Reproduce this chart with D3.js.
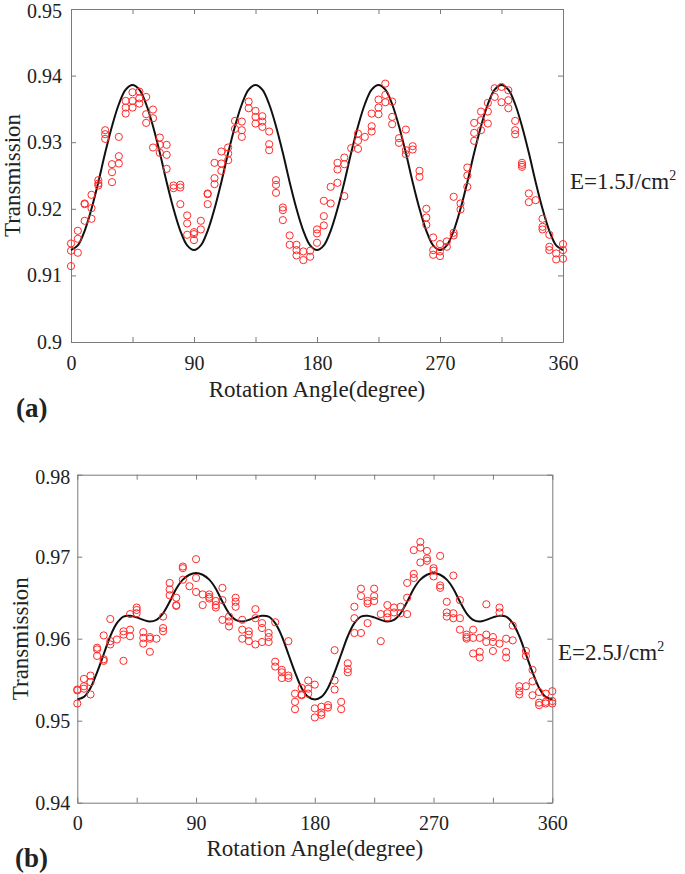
<!DOCTYPE html>
<html><head><meta charset="utf-8">
<script src="https://cdn.jsdelivr.net/npm/d3@7/dist/d3.min.js"></script>
<style>
html,body{margin:0;padding:0;background:#fff;}
svg{display:block;}
text{font-family:"Liberation Serif","Times New Roman",serif;fill:#222;}
</style></head>
<body>
<svg id="chart" width="685" height="874"></svg>
<script>
// ---------- data ----------
const angles = [0,5,10,15,20,25,30,35,40,45,50,55,60,65,70,75,80,85,90,95,100,105,110,115,120,125,130,135,140,145,150,155,160,165,170,175,180,185,190,195,200,205,210,215,220,225,230,235,240,245,250,255,260,265,270,275,280,285,290,295,300,305,310,315,320,325,330,335,340,345,350,355,360];
const xTicks = [0,45,90,135,180,225,270,315,360];
const xTickLabels = ["0","","90","","180","","270","","360"];
const yTicksA = [0.90,0.91,0.92,0.93,0.94,0.95];
const yTicksB = [0.94,0.95,0.96,0.97,0.98];

// measured transmission (several readings per angle), E = 1.5 J/cm2
const measA = [
 [0.9148,0.9137,0.9114],[0.9167,0.9155,0.9134],[0.9208,0.9207,0.9182],[0.9221,0.9201,0.9185],
 [0.9243,0.9238,0.9235],[0.9318,0.9312,0.9305],[0.9267,0.9255,0.9240],[0.9308,0.9279,0.9268],
 [0.9362,0.9352,0.9343],[0.9375,0.9362,0.9352],[0.9376,0.9366,0.9358],[0.9368,0.9342,0.9329],
 [0.9349,0.9336,0.9292],[0.9307,0.9296,0.9284],[0.9296,0.9281,0.9260],[0.9235,0.9231],
 [0.9236,0.9232,0.9207],[0.9190,0.9178,0.9161],[0.9165,0.9162,0.9153],[0.9182,0.9169],
 [0.9223,0.9222,0.9207],[0.9269,0.9246,0.9237],[0.9286,0.9268,0.9257],[0.9292,0.9283,0.9273],
 [0.9332,0.9320],[0.9331,0.9318,0.9308],[0.9361,0.9351],[0.9347,0.9338,0.9328],
 [0.9339,0.9331,0.9323],[0.9316,0.9297,0.9288],[0.9243,0.9236,0.9224],[0.9202,0.9198,0.9183],
 [0.9160,0.9146],[0.9146,0.9138,0.9130],[0.9136,0.9123],[0.9137,0.9128],
 [0.9169,0.9163,0.9149],[0.9212,0.9189,0.9175],[0.9233,0.9208],[0.9269,0.9259,0.9239],
 [0.9277,0.9267,0.9219],[0.9291],[0.9313,0.9302,0.9290],[0.9308],
 [0.9343,0.9324,0.9316],[0.9364,0.9352,0.9342],[0.9388,0.9371,0.9360],[0.9361,0.9338,0.9327],
 [0.9306,0.9299],[0.9319,0.9288,0.9282],[0.9294,0.9289],[0.9257,0.9248],
 [0.9200,0.9187,0.9176],[0.9157,0.9138,0.9131],[0.9147,0.9136,0.9129],[0.9151,0.9143],
 [0.9218,0.9164,0.9160],[0.9208,0.9199],[0.9262,0.9250,0.9233],[0.9329,0.9314,0.9302],
 [0.9346,0.9333,0.9318],[0.9359,0.9346,0.9328],[0.9381,0.9368],[0.9383,0.9360],
 [0.9378,0.9363,0.9351],[0.9332,0.9318,0.9312],[0.9269,0.9266,0.9263],[0.9223,0.9210],
 [0.9213],[0.9185,0.9173,0.9169],[0.9161,0.9143,0.9138],[0.9133,0.9124],[0.9147,0.9138,0.9125]
];
// fitted curve, E = 1.5 J/cm2
const fitA = [
 0.9138,0.9145,0.9167,0.9200,0.9240,0.9284,0.9324,0.9357,0.9379,0.9386,0.9379,0.9357,0.9324,0.9284,0.9240,0.9200,0.9167,0.9145,
 0.9138,0.9145,0.9167,0.9200,0.9240,0.9284,0.9324,0.9357,0.9379,0.9386,0.9379,0.9357,0.9324,0.9284,0.9240,0.9200,0.9167,0.9145,
 0.9138,0.9145,0.9167,0.9200,0.9240,0.9284,0.9324,0.9357,0.9379,0.9386,0.9379,0.9357,0.9324,0.9284,0.9240,0.9200,0.9167,0.9145,
 0.9138,0.9145,0.9167,0.9200,0.9240,0.9284,0.9324,0.9357,0.9379,0.9386,0.9379,0.9357,0.9324,0.9284,0.9240,0.9200,0.9167,0.9145,
 0.9138
];

// measured transmission, E = 2.5 J/cm2
const measB = [
 [0.9538,0.9537,0.9521],[0.9551,0.9542,0.9539],[0.9555,0.9547,0.9532],[0.9589,0.9587,0.9579],
 [0.9604,0.9575,0.9573],[0.9624,0.9597,0.9593],[0.9599],[0.9609,0.9605,0.9573],
 [0.9630,0.9611,0.9603],[0.9638,0.9635,0.9631],[0.9608,0.9601,0.9594],[0.9602,0.9600,0.9584],
 [0.9600],[0.9627,0.9613,0.9609],[0.9668,0.9660,0.9653],[0.9650,0.9641,0.9640],
 [0.9688,0.9686,0.9672],[0.9664],[0.9697,0.9674,0.9657],[0.9654,0.9641],
 [0.9654,0.9651,0.9649],[0.9646,0.9641,0.9638],[0.9662,0.9647,0.9623],[0.9627,0.9621,0.9615],
 [0.9650,0.9645,0.9639],[0.9623,0.9611,0.9600],[0.9609,0.9605,0.9597],[0.9636,0.9625,0.9593],
 [0.9619,0.9613,0.9596],[0.9607,0.9602,0.9596],[0.9620,0.9572,0.9566],[0.9562,0.9559,0.9552],
 [0.9597,0.9555,0.9552],[0.9533,0.9523,0.9514],[0.9540,0.9532,0.9531],[0.9549,0.9539,0.9533],
 [0.9544,0.9515,0.9504],[0.9517,0.9510,0.9507],[0.9519,0.9516],[0.9586,0.9549,0.9538],
 [0.9523,0.9514],[0.9570,0.9563,0.9559],[0.9639,0.9625,0.9607],[0.9661,0.9652,0.9607],
 [0.9646,0.9643,0.9619],[0.9661,0.9652,0.9646],[0.9630,0.9597],[0.9641,0.9631,0.9626],
 [0.9638,0.9632],[0.9639,0.9631],[0.9668,0.9650,0.9630],[0.9708,0.9679,0.9674],
 [0.9718,0.9711,0.9693],[0.9707,0.9698,0.9695],[0.9686,0.9683,0.9676],[0.9701,0.9665,0.9662],
 [0.9645,0.9632,0.9627],[0.9677,0.9631,0.9625],[0.9647,0.9625,0.9611],[0.9605,0.9602,0.9600],
 [0.9611,0.9601,0.9582],[0.9601,0.9584,0.9577],[0.9642,0.9605,0.9596],[0.9602,0.9596,0.9585],
 [0.9638,0.9632,0.9594],[0.9600,0.9584,0.9577],[0.9616,0.9598],[0.9542,0.9536,0.9532],
 [0.9585,0.9579,0.9542],[0.9562,0.9548,0.9531],[0.9535,0.9522,0.9519],[0.9533,0.9523,0.9521],
 [0.9536,0.9524,0.9521]
];
// fitted curve, E = 2.5 J/cm2
const fitB = [
 0.9526,0.9529,0.9540,0.9559,0.9581,0.9603,0.9619,0.9627,0.9628,0.9626,0.9623,0.9621,0.9623,0.9631,0.9645,0.9661,0.9672,0.9678,
 0.9680,0.9678,0.9672,0.9661,0.9645,0.9631,0.9623,0.9621,0.9623,0.9626,0.9628,0.9627,0.9619,0.9603,0.9581,0.9559,0.9540,0.9529,
 0.9526,0.9529,0.9540,0.9559,0.9581,0.9603,0.9619,0.9627,0.9628,0.9626,0.9623,0.9621,0.9623,0.9631,0.9645,0.9661,0.9672,0.9678,
 0.9680,0.9678,0.9672,0.9661,0.9645,0.9631,0.9623,0.9621,0.9623,0.9626,0.9628,0.9627,0.9619,0.9603,0.9581,0.9559,0.9540,0.9529,
 0.9526
];

// ---------- drawing ----------
const svg = d3.select("#chart");
svg.append("rect").attr("width",685).attr("height",874).attr("fill","#fff");

function panel(cfg){
  const x = d3.scaleLinear().domain([0,360]).range([cfg.left,cfg.right]);
  const y = d3.scaleLinear().domain(cfg.yDomain).range([cfg.bottom,cfg.top]);
  const g = svg.append("g");
  const axisColor = "#7a7a7a";

  const bottom = g.append("g").attr("transform",`translate(0,${cfg.bottom})`)
    .call(d3.axisBottom(x).tickValues(xTicks).tickSizeInner(-5).tickSizeOuter(0)
      .tickPadding(cfg.xPad).tickFormat((d,i)=>xTickLabels[i]));
  const top = g.append("g").attr("transform",`translate(0,${cfg.top})`)
    .call(d3.axisTop(x).tickValues(xTicks).tickSizeInner(-5).tickSizeOuter(0).tickFormat(""));
  const left = g.append("g").attr("transform",`translate(${cfg.left},0)`)
    .call(d3.axisLeft(y).tickValues(cfg.yTicks).tickSizeInner(-5).tickSizeOuter(0)
      .tickPadding(cfg.yPad).tickFormat(d=>cfg.fmt(d)));
  const right = g.append("g").attr("transform",`translate(${cfg.right},0)`)
    .call(d3.axisRight(y).tickValues(cfg.yTicks).tickSizeInner(-5).tickSizeOuter(0).tickFormat(""));
  [bottom,top,left,right].forEach(a=>{
    a.selectAll("path").attr("stroke",axisColor).attr("stroke-width",1);
    a.selectAll("line").attr("stroke",axisColor).attr("stroke-width",1);
    a.selectAll("text").attr("font-size",20).attr("font-family","Liberation Serif").attr("fill","#222");
  });
  // keep the top y label inside the page
  left.selectAll("text").filter(d=>d===cfg.yDomain[1]).attr("dy","0.42em");

  const line = d3.line().x((d,i)=>x(angles[i])).y(d=>y(d)).curve(d3.curveCatmullRom);
  g.append("path").datum(cfg.fit).attr("d",line)
    .attr("fill","none").attr("stroke","#111").attr("stroke-width",2);

  const pts = [];
  cfg.meas.forEach((arr,i)=>arr.forEach(v=>pts.push([angles[i],v])));
  g.append("g").selectAll("circle").data(pts).join("circle")
    .attr("cx",d=>x(d[0])).attr("cy",d=>y(d[1])).attr("r",3.6)
    .attr("fill","none").attr("stroke","#ff2a2a").attr("stroke-width",1);

  g.append("text").attr("x",(cfg.left+cfg.right)/2).attr("y",cfg.xTitleY)
    .attr("text-anchor","middle").attr("font-size",23).text("Rotation Angle(degree)");
  g.append("text").attr("transform",`translate(${cfg.yTitleX},${(cfg.top+cfg.bottom)/2}) rotate(-90)`)
    .attr("text-anchor","middle").attr("font-size",23).text("Transmission");
  const e = g.append("text").attr("x",cfg.eX).attr("y",cfg.eY).attr("font-size",23);
  e.append("tspan").text(cfg.eText);
  e.append("tspan").attr("dy",-9).attr("font-size",14).text("2");
  g.append("text").attr("x",cfg.tagX).attr("y",cfg.tagY).attr("font-size",27)
    .attr("font-weight","bold").attr("fill","#000").text(cfg.tag);
}

panel({left:71,right:563,top:9,bottom:342,yDomain:[0.90,0.95],yTicks:yTicksA,
  fmt:d=>d===0.9?"0.9":d3.format(".2f")(d),
  meas:measA,fit:fitA,xPad:14,yPad:9,xTitleY:397,yTitleX:20,
  eX:570,eY:189,eText:"E=1.5J/cm",tag:"(a)",tagX:16,tagY:417});

panel({left:77.3,right:552.3,top:474.7,bottom:802.7,yDomain:[0.94,0.98],yTicks:yTicksB,
  fmt:d=>d3.format(".2f")(d),
  meas:measB,fit:fitB,xPad:13,yPad:7,xTitleY:856,yTitleX:28,
  eX:558,eY:660,eText:"E=2.5J/cm",tag:"(b)",tagX:15,tagY:867});
</script>
</body></html>
